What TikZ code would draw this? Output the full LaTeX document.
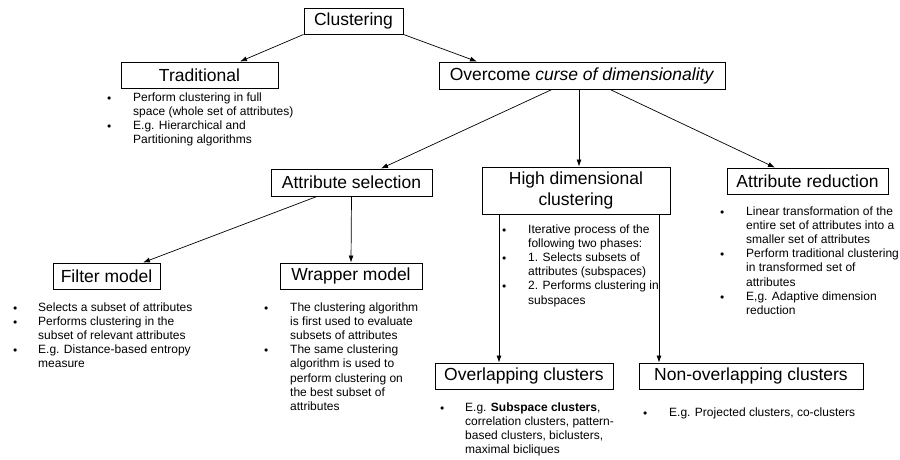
\documentclass[tikz,border=0pt]{standalone}
\usepackage{fontspec}
\setmainfont{Liberation Sans}
\usetikzlibrary{arrows.meta}
% small round marker used at the head of each list entry
\newcommand{\itemdot}{\raisebox{1.1pt}{\fontsize{8.5}{8.5}\selectfont$\bullet$}}
\begin{document}
\begin{tikzpicture}[x=1pt,y=-1pt,
  box/.style={draw, line width=0.9pt, inner sep=0pt, align=center,
    font=\fontsize{17.5}{20.5}\selectfont},
  arr/.style={line width=0.7pt, -{Latex[length=7pt,width=5pt]}},
  notes/.style={anchor=north west, inner sep=0pt,
    font=\fontsize{12}{14.2}\selectfont}]
\useasboundingbox (0,0) rectangle (900,459);

% category boxes
\node[box, minimum width=99pt,  minimum height=26pt] (clus) at (353.5,21)  {Clustering};
\node[box, minimum width=157pt, minimum height=26pt] (trad) at (199.5,75)  {Traditional};
\node[box, minimum width=286pt, minimum height=27pt] (over) at (582,75.5)  {Overcome \textit{curse of dimensionality}};
\node[box, minimum width=161pt, minimum height=27pt] (asel) at (351.5,182.5) {Attribute selection};
\node[box, minimum width=188pt, minimum height=47pt] (hd)   at (576,190.5) {High dimensional\\clustering};
\node[box, minimum width=161pt, minimum height=26pt] (ared) at (807.5,181) {Attribute reduction};
\node[box, minimum width=107pt, minimum height=26pt] (filt) at (106.5,276) {Filter model};
\node[box, minimum width=142pt, minimum height=26pt] (wrap) at (351,276)   {Wrapper model};
\node[box, minimum width=178pt, minimum height=26pt] (ovl)  at (524,376)   {Overlapping clusters};
\node[box, minimum width=224pt, minimum height=26pt] (novl) at (751,376)   {Non-overlapping clusters};

% hierarchy
\draw[arr] (clus.south west) -- ([xshift=40.5pt]trad.north);
\draw[arr] (clus.south east) -- ([xshift=-105pt]over.north);
\draw[arr] ([xshift=-30pt]over.south) -- ([xshift=29.5pt]asel.north);
\draw[arr] ([xshift=-3pt]over.south) -- ([xshift=3pt]hd.north);
\draw[arr] ([xshift=28pt]over.south) -- ([xshift=-32.5pt]ared.north);
\draw[arr] ([xshift=-34.5pt]asel.south) -- ([xshift=36.5pt]filt.north);
\draw[arr] (asel.south) -- (wrap.north);
\draw[arr] ([xshift=-77pt]hd.south) -- ([xshift=-25pt]ovl.north);
\draw[arr] ([xshift=83pt]hd.south) -- ([xshift=-92pt]novl.north);

% descriptions
\node[notes] (tradnotes) at (107,91) {\begin{tabular}{@{}p{26pt}@{}l@{}}
\itemdot & Perform clustering in full\\
 & space (whole set of attributes)\\
\itemdot & E.g. Hierarchical and\\
 & Partitioning algorithms
\end{tabular}};

\node[notes] (filtnotes) at (13,301) {\begin{tabular}{@{}p{25pt}@{}l@{}}
\itemdot & Selects a subset of attributes\\
\itemdot & Performs clustering in the\\
 & subset of relevant attributes\\
\itemdot & E.g. Distance-based entropy\\
 & measure
\end{tabular}};

\node[notes] (wrapnotes) at (264,301) {\begin{tabular}{@{}p{26pt}@{}l@{}}
\itemdot & The clustering algorithm\\
 & is first used to evaluate\\
 & subsets of attributes\\
\itemdot & The same clustering\\
 & algorithm is used to\\
 & perform clustering on\\
 & the best subset of\\
 & attributes
\end{tabular}};

\node[notes] (hdnotes) at (502,223) {\begin{tabular}{@{}p{26pt}@{}l@{}}
\itemdot & Iterative process of the\\
 & following two phases:\\
\itemdot & 1. Selects subsets of\\
 & attributes (subspaces)\\
\itemdot & 2. Performs clustering in\\
 & subspaces
\end{tabular}};

\node[notes] (arednotes) at (720,205) {\begin{tabular}{@{}p{26pt}@{}l@{}}
\itemdot & Linear transformation of the\\
 & entire set of attributes into a\\
 & smaller set of attributes\\
\itemdot & Perform traditional clustering\\
 & in transformed set of\\
 & attributes\\
\itemdot & E,g. Adaptive dimension\\
 & reduction
\end{tabular}};

\node[notes] (ovlnotes) at (440,401) {\begin{tabular}{@{}p{25pt}@{}l@{}}
\itemdot & E.g. \textbf{Subspace clusters},\\
 & correlation clusters, pattern-\\
 & based clusters, biclusters,\\
 & maximal bicliques
\end{tabular}};

\node[notes] (novlnotes) at (643,406) {\begin{tabular}{@{}p{26pt}@{}l@{}}
\itemdot & E.g. Projected clusters, co-clusters
\end{tabular}};
\end{tikzpicture}
\end{document}
